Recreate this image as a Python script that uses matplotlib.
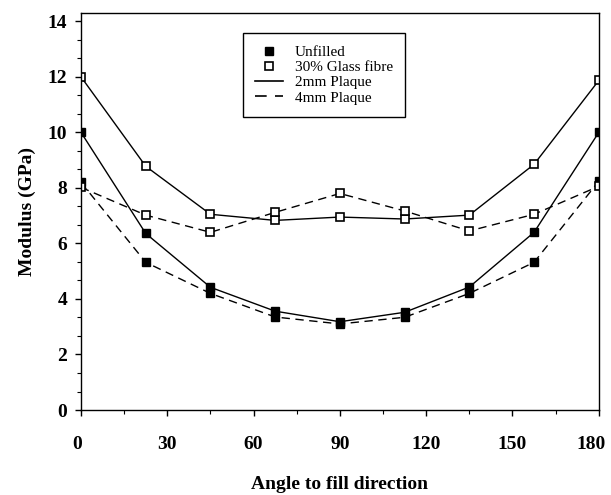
import matplotlib

matplotlib.use("Agg")
import matplotlib.pyplot as plt
import matplotlib.transforms as mtransforms
from matplotlib.lines import Line2D
from matplotlib.ticker import MultipleLocator, AutoMinorLocator

plt.rcParams["font.family"] = ["Liberation Serif", "DejaVu Serif"]

# angle to fill direction (degrees)
angle = [0, 22.5, 45, 67.5, 90, 112.5, 135, 157.5, 180]

# modulus (GPa)
unfilled_2mm = [10.0, 6.36, 4.42, 3.56, 3.18, 3.52, 4.43, 6.4, 10.0]
unfilled_4mm = [8.2, 5.32, 4.2, 3.35, 3.1, 3.34, 4.2, 5.32, 8.24]
glass_2mm = [12.0, 8.78, 7.05, 6.83, 6.95, 6.88, 7.02, 8.85, 11.87]
glass_4mm = [8.02, 7.02, 6.4, 7.12, 7.8, 7.17, 6.45, 7.05, 8.06]

legend_labels = ["Unfilled", "30% Glass fibre", "2mm Plaque", "4mm Plaque"]

dash = (0, (6, 4))
fig = plt.figure(figsize=(6.11, 4.95), dpi=100)
ax = fig.add_axes([0.1326, 0.1717, 0.8474, 0.802])

ax.plot(angle, unfilled_2mm, "k-", lw=1.0, marker="s", ms=6, mfc="k", mec="k")
ax.plot(angle, unfilled_4mm, color="k", ls=dash, lw=1.0, marker="s", ms=6, mfc="k", mec="k")
ax.plot(angle, glass_2mm, "k-", lw=1.0, marker="s", ms=6, mfc="white", mec="k", mew=1.2)
ax.plot(angle, glass_4mm, color="k", ls=dash, lw=1.0, marker="s", ms=6, mfc="white", mec="k", mew=1.2)

ax.set_xlim(0, 180)
ax.set_ylim(0, 14.3)
ax.set_xticks([0, 30, 60, 90, 120, 150, 180])
ax.xaxis.set_minor_locator(MultipleLocator(15))
ax.set_yticks([0, 2, 4, 6, 8, 10, 12, 14])
ax.yaxis.set_minor_locator(AutoMinorLocator(3))
ax.tick_params(axis="x", which="major", direction="out", length=4, width=1, pad=15, labelsize=14)
ax.tick_params(axis="y", which="major", direction="out", length=4, width=1, pad=6, labelsize=14)
ax.tick_params(which="minor", direction="out", length=3, width=0.8)
for lab in ax.get_xticklabels() + ax.get_yticklabels():
    lab.set_fontweight("bold")
for sp in ax.spines.values():
    sp.set_linewidth(1.0)

# end labels sit a little left of their ticks in the original
for tick in ax.xaxis.get_major_ticks():
    shift = {0: -4, 180: -8}.get(tick.get_loc(), 0)
    if shift:
        lab = tick.label1
        lab.set_transform(lab.get_transform() + mtransforms.ScaledTranslation(shift / 100, 0, fig.dpi_scale_trans))

ax.set_xlabel("Angle to fill direction", fontsize=14, fontweight="bold", labelpad=16)
ax.set_ylabel("Modulus (GPa)", fontsize=14, fontweight="bold", labelpad=8)

handles = [
    Line2D([], [], ls="none", marker="s", ms=6, mfc="k", mec="k"),
    Line2D([], [], ls="none", marker="s", ms=6, mfc="white", mec="k", mew=1.2),
    Line2D([], [], color="k", lw=1.2),
    Line2D([], [], color="k", lw=1.2, ls=(0, (7, 5))),
]
leg = ax.legend(handles, legend_labels, loc="upper left", bbox_to_anchor=(0.3127, 0.9496),
                borderaxespad=0, fontsize=11, frameon=True, fancybox=False, handlelength=1.8,
                borderpad=0.8, labelspacing=0.1, handletextpad=0.8)
leg.get_frame().set_edgecolor("k")
leg.get_frame().set_linewidth(1.0)
leg.get_frame().set_alpha(1)

fig.savefig("out.png", dpi=100)
